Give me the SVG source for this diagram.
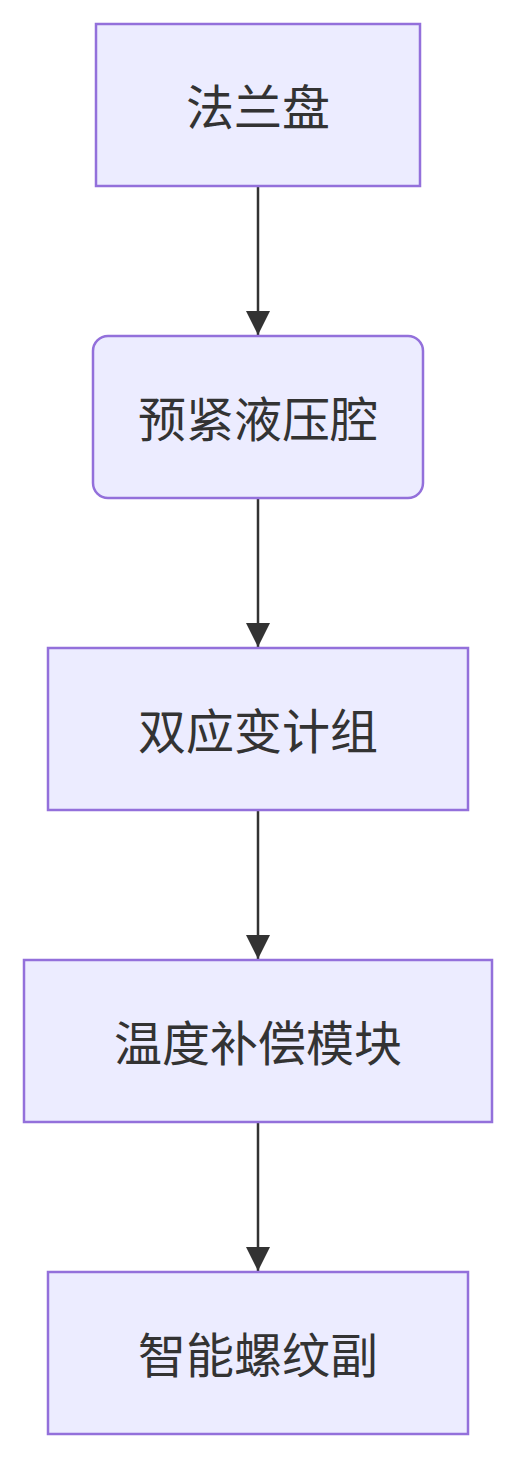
<svg xmlns="http://www.w3.org/2000/svg" width="516" height="1458" viewBox="0 0 516 1458">
<style>
.node rect{fill:#ECECFF;stroke:#9370DB;stroke-width:2.5}
.node text{font-family:"Noto Sans CJK SC","Noto Sans",sans-serif;font-size:48px;fill:#333333;text-anchor:middle;dominant-baseline:central}
.edge{stroke:#333333;stroke-width:2.5;fill:none}
</style>
<defs>
<marker id="arrow" viewBox="0 0 12 12" refX="12" refY="6" markerUnits="userSpaceOnUse" markerWidth="24" markerHeight="24" orient="auto">
<path d="M0,0 L12,6 L0,12 z" fill="#333333"/>
</marker>
</defs>
<rect width="516" height="1458" fill="#FFFFFF"/>
<g id="connectors">
<line class="edge" x1="258" y1="186" x2="258" y2="335" marker-end="url(#arrow)"/>
<line class="edge" x1="258" y1="498" x2="258" y2="647" marker-end="url(#arrow)"/>
<line class="edge" x1="258" y1="810" x2="258" y2="959" marker-end="url(#arrow)"/>
<line class="edge" x1="258" y1="1122" x2="258" y2="1271" marker-end="url(#arrow)"/>
</g>
<g id="node1" class="node"><rect x="96" y="24" width="324" height="162"/><text x="258" y="104">法兰盘</text></g>
<g id="node2" class="node"><rect x="93" y="336" width="330" height="162" rx="15" ry="15"/><text x="258" y="416">预紧液压腔</text></g>
<g id="node3" class="node"><rect x="48" y="648" width="420" height="162"/><text x="258" y="728">双应变计组</text></g>
<g id="node4" class="node"><rect x="24" y="960" width="468" height="162"/><text x="258" y="1040">温度补偿模块</text></g>
<g id="node5" class="node"><rect x="48" y="1272" width="420" height="162"/><text x="258" y="1352">智能螺纹副</text></g>
</svg>
